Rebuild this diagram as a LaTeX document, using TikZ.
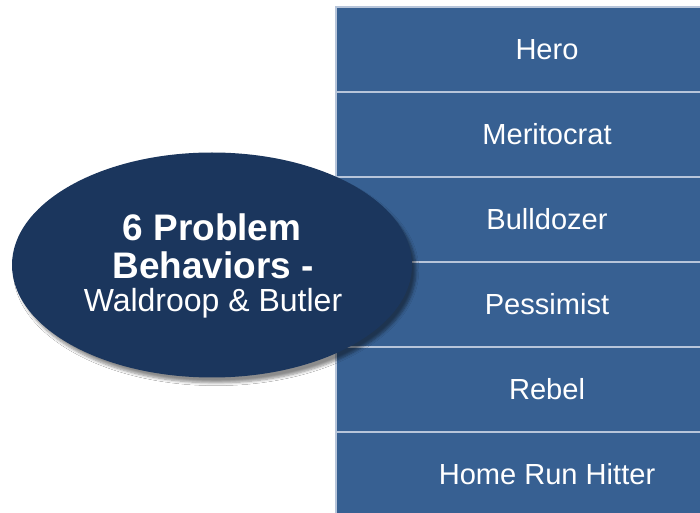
\documentclass[tikz,border=0pt]{standalone}
\usepackage{fontspec}
\setmainfont{Liberation Sans}
\usepackage{xcolor}
\usetikzlibrary{shapes.geometric,shadows,shadows.blur}
\definecolor{boxblue}{HTML}{376092}
\definecolor{boxline}{HTML}{B7C5DA}
\definecolor{ovalblue}{HTML}{1B365D}
\tikzset{
  behbox/.style={rectangle,fill=boxblue,draw=boxline,line width=1.5pt,
    minimum width=316.5pt,minimum height=63.75pt,inner sep=0pt,
    text=white,font=\fontsize{21.8}{24}\selectfont},
  oval/.style={ellipse,fill=ovalblue,minimum width=300pt,minimum height=168.75pt,
    inner sep=0pt,blur shadow={shadow xshift=3pt,shadow yshift=-4pt,shadow blur steps=6,shadow opacity=45}},
  ovaltext/.style={text=white,anchor=base,inner sep=0pt}
}

\begin{document}
\begin{tikzpicture}[x=0.75pt,y=-0.75pt]
  \clip (0,0) rectangle (700,513);
  \fill[white] (0,0) rectangle (700,513);
  % Boxes
  \foreach \lbl [count=\i] in {Hero,Meritocrat,Bulldozer,Pessimist,Rebel,Home Run Hitter}
    \node[behbox] (box\i) at (547,{49.5+85*(\i-1)}) {\lbl};
  % Oval
  \node[oval] (oval) at (212,265) {};
  \node[ovaltext,font=\bfseries\fontsize{27.7}{30}\selectfont] (title1) at (212,241) {6 Problem};
  \node[ovaltext,font=\bfseries\fontsize{27.7}{30}\selectfont] (title2) at (213,279) {Behaviors -};
  \node[ovaltext,font=\fontsize{24}{28}\selectfont] (authors) at (213,312) {Waldroop \& Butler};
\end{tikzpicture}
\end{document}
